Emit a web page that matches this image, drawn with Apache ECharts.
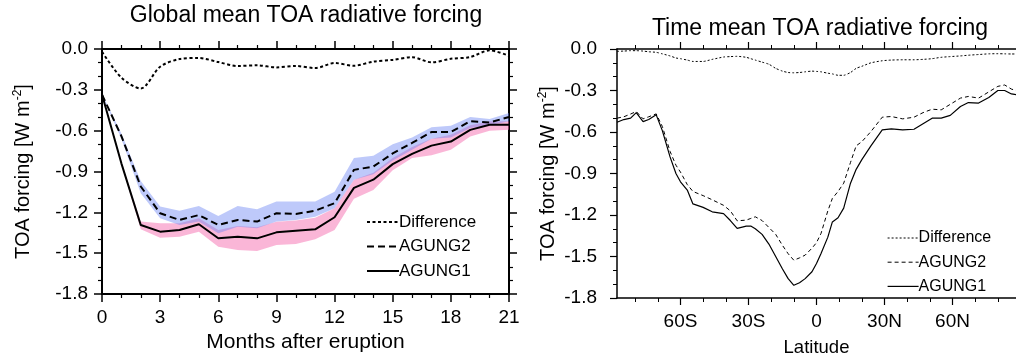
<!DOCTYPE html>
<html>
<head>
<meta charset="utf-8">
<title>TOA radiative forcing</title>
<script src="https://cdn.jsdelivr.net/npm/echarts@6/dist/echarts.min.js"></script>
<style>
  html, body { margin: 0; padding: 0; background: #fff; }
  #chart { width: 1016px; height: 362px; }
</style>
</head>
<body>
<div id="chart"></div>
<script>
// ---- left panel: global mean, months after eruption ----
const months = [0, 1, 2, 3, 4, 5, 6, 7, 8, 9, 10, 11, 12, 13, 14, 15, 16, 17, 18, 19, 20, 21];
const globalDiff = [-0.02, -0.21, -0.29, -0.13, -0.074, -0.066, -0.096, -0.125, -0.12, -0.135, -0.125,
  -0.14, -0.103, -0.123, -0.093, -0.08, -0.06, -0.098, -0.072, -0.059, -0.01, -0.05];
const globalAgung2 = [-0.335, -0.64, -1.01, -1.207, -1.256, -1.22, -1.293, -1.256, -1.268, -1.207, -1.212,
  -1.188, -1.133, -0.888, -0.864, -0.767, -0.69, -0.61, -0.61, -0.53, -0.54, -0.50];
const globalAgung1 = [-0.335, -0.84, -1.293, -1.342, -1.33, -1.288, -1.39, -1.379, -1.391, -1.347, -1.335,
  -1.325, -1.236, -1.02, -0.96, -0.846, -0.77, -0.71, -0.68, -0.594, -0.557, -0.557];
// spread of the ensembles (shaded)
const agung2Upper = [-0.33, -0.62, -0.97, -1.158, -1.188, -1.153, -1.227, -1.153, -1.177, -1.121, -1.121,
  -1.121, -1.048, -0.80, -0.785, -0.70, -0.65, -0.574, -0.564, -0.50, -0.515, -0.47];
const agung2Lower = [-0.34, -0.66, -1.06, -1.244, -1.293, -1.268, -1.354, -1.305, -1.317, -1.268, -1.256,
  -1.232, -1.17, -0.96, -0.92, -0.82, -0.74, -0.66, -0.65, -0.58, -0.56, -0.53];
const agung1Upper = [-0.33, -0.83, -1.268, -1.28, -1.28, -1.244, -1.33, -1.30, -1.31, -1.27, -1.26,
  -1.24, -1.17, -0.96, -0.91, -0.80, -0.72, -0.66, -0.63, -0.56, -0.53, -0.53];
const agung1Lower = [-0.34, -0.85, -1.325, -1.386, -1.379, -1.342, -1.452, -1.477, -1.484, -1.44, -1.433,
  -1.398, -1.33, -1.10, -1.035, -0.89, -0.80, -0.78, -0.74, -0.643, -0.60, -0.594];

// ---- right panel: time mean, by latitude ----
const latitudes = [-88, -85, -82, -79.5, -76.5, -74, -70.7, -68, -64.6, -62, -60, -57, -54.5, -50, -46,
  -41, -38, -35, -31, -29, -27, -24, -21, -18, -15, -12.5, -10, -7.5, -5, -2, 0, 2, 5, 7, 9.5,
  12, 15, 17.5, 20, 24, 29, 33, 38, 43, 47, 51, 55, 59, 63.5, 67, 71.5, 76, 80, 83, 86, 88];
const zonalAgung1 = [-0.53, -0.51, -0.50, -0.46, -0.525, -0.51, -0.476, -0.59, -0.78, -0.90,
  -0.96, -1.02, -1.12, -1.145, -1.177, -1.19, -1.24, -1.297, -1.28, -1.28,
  -1.30, -1.34, -1.41, -1.50, -1.59, -1.66, -1.708, -1.69, -1.66, -1.61,
  -1.55, -1.478, -1.36, -1.25, -1.22, -1.15, -0.97, -0.87, -0.80, -0.70,
  -0.585, -0.578, -0.585, -0.58, -0.54, -0.50, -0.50, -0.48, -0.416, -0.387,
  -0.391, -0.35, -0.30, -0.30, -0.325, -0.33];
const zonalAgung2 = [-0.50, -0.49, -0.47, -0.452, -0.505, -0.49, -0.469, -0.56, -0.74, -0.84,
  -0.89, -0.98, -1.03, -1.06, -1.09, -1.13, -1.17, -1.242, -1.237, -1.225,
  -1.213, -1.24, -1.29, -1.34, -1.42, -1.48, -1.527, -1.51, -1.49, -1.44,
  -1.40, -1.333, -1.17, -1.08, -1.03, -0.97, -0.82, -0.70, -0.67, -0.597,
  -0.493, -0.488, -0.505, -0.493, -0.46, -0.435, -0.44, -0.40, -0.355, -0.343,
  -0.355, -0.31, -0.27, -0.26, -0.29, -0.30];
const zonalDiff = [-0.017, -0.015, -0.012, -0.012, -0.015, -0.02, -0.024, -0.035, -0.05, -0.065,
  -0.07, -0.08, -0.09, -0.09, -0.075, -0.058, -0.055, -0.053, -0.06, -0.07,
  -0.08, -0.095, -0.11, -0.14, -0.16, -0.17, -0.172, -0.17, -0.165, -0.16,
  -0.162, -0.165, -0.175, -0.18, -0.19, -0.19, -0.17, -0.14, -0.125, -0.10,
  -0.085, -0.08, -0.078, -0.078, -0.075, -0.07, -0.06, -0.055, -0.05, -0.045,
  -0.04, -0.035, -0.034, -0.035, -0.036, -0.036];

// tick labels
const latTickValues = [-60, -30, 0, 30, 60];
const latTickLabels = ['60S', '30S', '0', '30N', '60N'];
const latMinorTicks = [-80, -70, -50, -40, -20, -10, 10, 20, 40, 50, 70, 80];

const FONT = 'Liberation Sans, Arial, Helvetica, sans-serif';
const chart = echarts.init(document.getElementById('chart'));

function pairs(xs, ys) {
  return xs.map((x, i) => [x, ys[i]]);
}

// shaded spread, one polygon through the axis scales
function bandSeries(upper, lower, color) {
  return {
    type: 'custom',
    xAxisIndex: 0,
    yAxisIndex: 0,
    silent: true,
    z: 1,
    data: months.map((m, i) => [m, upper[i], lower[i]]),
    encode: { x: 0, y: [1, 2] },
    renderItem: function (params, api) {
      if (params.dataIndex !== 0) return null;
      const pts = [];
      for (let i = 0; i < months.length; i++) pts.push(api.coord([months[i], upper[i]]));
      for (let i = months.length - 1; i >= 0; i--) pts.push(api.coord([months[i], lower[i]]));
      return { type: 'polygon', shape: { points: pts }, style: { fill: color } };
    }
  };
}

const nameRich = {
  a: { fontSize: 20, fontFamily: FONT, color: '#000' },
  b: { fontSize: 12, fontFamily: FONT, color: '#000', padding: [0, 0, 10, 0] }
};

function legendItem(name, width, type) {
  return { name: name, itemStyle: { opacity: 0 }, lineStyle: { width: width, type: type, color: '#000' } };
}

function frameAxis(extra) {
  return Object.assign({
    splitLine: { show: false },
    axisLine: { onZero: false, lineStyle: { color: '#000', width: 2 } }
  }, extra);
}

const option = {
  animation: false,
  title: [
    { text: 'Global mean TOA radiative forcing', left: 306, top: 4, textAlign: 'center', padding: 0,
      textStyle: { fontSize: 23, fontWeight: 'normal', fontFamily: FONT, color: '#000' } },
    { text: 'Time mean TOA radiative forcing', left: 820, top: 17, textAlign: 'center', padding: 0,
      textStyle: { fontSize: 23, fontWeight: 'normal', fontFamily: FONT, color: '#000' } }
  ],
  legend: [
    {
      orient: 'vertical', left: 366, top: 213, padding: 0,
      itemWidth: 32, itemHeight: 18, itemGap: 6.5, selectedMode: false,
      textStyle: { fontSize: 17, fontFamily: FONT, color: '#000', lineHeight: 18, padding: [0, 0, 0, -5] },
      data: [
        legendItem('Difference', 2, [3, 2.5]),
        legendItem('AGUNG2', 2, [7, 4]),
        legendItem('AGUNG1', 2, 'solid')
      ]
    },
    {
      orient: 'vertical', left: 887, top: 229, padding: 0,
      itemWidth: 31, itemHeight: 18, itemGap: 6.2, selectedMode: false,
      textStyle: { fontSize: 16, fontFamily: FONT, color: '#000', lineHeight: 18, padding: [0, 0, 0, -5] },
      data: [
        legendItem('Difference', 1, [2, 2]),
        legendItem('AGUNG2', 1, [4, 3]),
        legendItem('AGUNG1', 1.2, 'solid')
      ]
    }
  ],
  grid: [
    { left: 102, top: 49, width: 407, height: 245 },
    { left: 617, top: 49, width: 405, height: 249 },
    { left: 617, top: 49, width: 405, height: 249 }
  ],
  xAxis: [
    frameAxis({
      gridIndex: 0, type: 'value', position: 'bottom', min: 0, max: 21, interval: 3,
      axisTick: { length: 8, lineStyle: { color: '#000', width: 1.5 } },
      minorTick: { show: true, splitNumber: 3, length: 4, lineStyle: { color: '#000', width: 1.2 } },
      axisLabel: { fontSize: 19, fontFamily: FONT, color: '#000', margin: 14 },
      name: 'Months after eruption', nameLocation: 'middle', nameGap: 36,
      nameTextStyle: { fontSize: 21, fontFamily: FONT, color: '#000' }
    }),
    frameAxis({
      gridIndex: 0, type: 'value', position: 'top', min: 0, max: 21, interval: 3,
      axisTick: { length: 8, lineStyle: { color: '#000', width: 1.5 } },
      minorTick: { show: true, splitNumber: 3, length: 4, lineStyle: { color: '#000', width: 1.2 } },
      axisLabel: { show: false }
    }),
    frameAxis({
      gridIndex: 1, type: 'value', position: 'bottom', min: -88, max: 88,
      axisLine: { onZero: false, lineStyle: { color: '#000', width: 1.5 } },
      axisTick: { length: 7, customValues: latTickValues, lineStyle: { color: '#000', width: 1.2 } },
      axisLabel: {
        customValues: latTickValues, fontSize: 19, fontFamily: FONT, color: '#000', margin: 14,
        formatter: v => latTickLabels[latTickValues.indexOf(v)]
      },
      name: 'Latitude', nameLocation: 'middle', nameGap: 40,
      nameTextStyle: { fontSize: 18.5, fontFamily: FONT, color: '#000' }
    }),
    frameAxis({
      gridIndex: 1, type: 'value', position: 'top', min: -88, max: 88,
      axisLine: { onZero: false, lineStyle: { color: '#000', width: 1.5 } },
      axisTick: { length: 7, customValues: latTickValues, lineStyle: { color: '#000', width: 1.2 } },
      axisLabel: { show: false }
    }),
    {
      gridIndex: 2, type: 'value', position: 'bottom', min: -88, max: 88,
      axisLine: { show: false, onZero: false },
      axisTick: { length: 4, customValues: latMinorTicks, lineStyle: { color: '#000', width: 1 } },
      splitLine: { show: false }, axisLabel: { show: false }
    },
    {
      gridIndex: 2, type: 'value', position: 'top', min: -88, max: 88,
      axisLine: { show: false, onZero: false },
      axisTick: { length: 4, customValues: latMinorTicks, lineStyle: { color: '#000', width: 1 } },
      splitLine: { show: false }, axisLabel: { show: false }
    }
  ],
  yAxis: [
    frameAxis({
      gridIndex: 0, type: 'value', position: 'left', min: -1.8, max: 0, interval: 0.3,
      axisTick: { length: 8, lineStyle: { color: '#000', width: 1.5 } },
      minorTick: { show: true, splitNumber: 3, length: 4, lineStyle: { color: '#000', width: 1.2 } },
      axisLabel: { fontSize: 19, fontFamily: FONT, color: '#000', margin: 14, formatter: v => v.toFixed(1) },
      name: '{a|TOA forcing [W m}{b|-2}{a|]}', nameLocation: 'middle', nameGap: 68, nameRotate: 90,
      nameTextStyle: { rich: nameRich }
    }),
    frameAxis({
      gridIndex: 0, type: 'value', position: 'right', min: -1.8, max: 0, interval: 0.3,
      axisTick: { length: 8, lineStyle: { color: '#000', width: 1.5 } },
      minorTick: { show: true, splitNumber: 3, length: 4, lineStyle: { color: '#000', width: 1.2 } },
      axisLabel: { show: false }
    }),
    frameAxis({
      gridIndex: 1, type: 'value', position: 'left', min: -1.8, max: 0, interval: 0.3,
      axisLine: { onZero: false, lineStyle: { color: '#000', width: 1.5 } },
      axisTick: { length: 7, lineStyle: { color: '#000', width: 1.2 } },
      minorTick: { show: true, splitNumber: 3, length: 4, lineStyle: { color: '#000', width: 1 } },
      axisLabel: { fontSize: 19, fontFamily: FONT, color: '#000', margin: 20, formatter: v => v.toFixed(1) },
      name: '{a|TOA forcing [W m}{b|-2}{a|]}', nameLocation: 'middle', nameGap: 58, nameRotate: 90,
      nameTextStyle: { rich: nameRich }
    }),
    {
      gridIndex: 2, type: 'value', min: -1.8, max: 0, show: false
    }
  ],
  series: [
    bandSeries(agung1Upper, agung1Lower, 'rgba(245, 110, 175, 0.5)'),
    bandSeries(agung2Upper, agung2Lower, 'rgba(110, 135, 245, 0.45)'),
    {
      name: 'Difference', type: 'line', xAxisIndex: 0, yAxisIndex: 0, symbol: 'none', z: 3,
      data: pairs(months, globalDiff), smooth: 0.3, itemStyle: { color: '#000' },
      lineStyle: { color: '#000', width: 2, type: [3, 2.5] }
    },
    {
      name: 'AGUNG2', type: 'line', xAxisIndex: 0, yAxisIndex: 0, symbol: 'none', z: 3,
      data: pairs(months, globalAgung2), itemStyle: { color: '#000' },
      lineStyle: { color: '#000', width: 2, type: [7, 4] }
    },
    {
      name: 'AGUNG1', type: 'line', xAxisIndex: 0, yAxisIndex: 0, symbol: 'none', z: 3,
      data: pairs(months, globalAgung1), itemStyle: { color: '#000' },
      lineStyle: { color: '#000', width: 2, type: 'solid' }
    },
    {
      name: 'Difference', type: 'line', xAxisIndex: 2, yAxisIndex: 2, symbol: 'none', z: 3,
      data: pairs(latitudes, zonalDiff), smooth: 0.2, itemStyle: { color: '#000' },
      lineStyle: { color: '#000', width: 1, type: [2, 2] }
    },
    {
      name: 'AGUNG2', type: 'line', xAxisIndex: 2, yAxisIndex: 2, symbol: 'none', z: 3,
      data: pairs(latitudes, zonalAgung2), itemStyle: { color: '#000' },
      lineStyle: { color: '#000', width: 1, type: [4, 3] }
    },
    {
      name: 'AGUNG1', type: 'line', xAxisIndex: 2, yAxisIndex: 2, symbol: 'none', z: 3,
      data: pairs(latitudes, zonalAgung1), itemStyle: { color: '#000' },
      lineStyle: { color: '#000', width: 1.2, type: 'solid' }
    }
  ]
};

chart.setOption(option);
</script>
</body>
</html>
